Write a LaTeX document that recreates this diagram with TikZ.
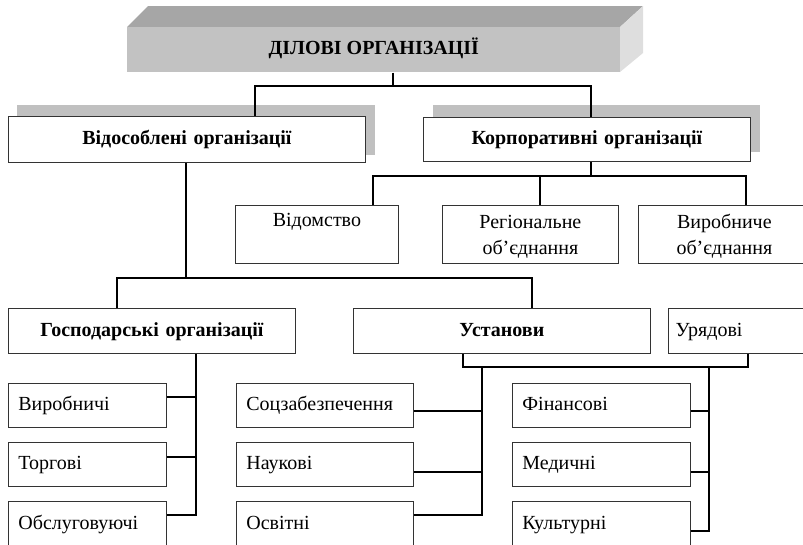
\documentclass[tikz,border=0pt]{standalone}
\usepackage{fontspec}
\setmainfont{Liberation Serif}
\definecolor{topgray}{HTML}{A6A6A6}
\definecolor{frontgray}{HTML}{C2C2C2}
\definecolor{sidegray}{HTML}{DEDEDE}
\definecolor{shadgray}{HTML}{C0C0C0}
\begin{document}
\begin{tikzpicture}[x=0.75pt,y=-0.75pt,
  conn/.style={line width=1.2pt, black},
  box/.style={draw=black!80, line width=0.6pt, fill=white, inner sep=0pt, anchor=north west,
    font=\fontsize{15}{19.5}\selectfont, execute at begin node=\strut},
  bbox/.style={box, font=\fontsize{15}{19.5}\selectfont\bfseries, align=center},
  twoline/.style={box, align=center, minimum height=43.5pt},
  colbox/.style={box, align=left, inner xsep=7.5pt, minimum height=33pt},
]
\useasboundingbox (0,0) rectangle (803,544);
\clip (0,0) rectangle (803,544);

% top 3D bar
\fill[topgray] (127,27) -- (148,6) -- (643,6) -- (620,27) -- cycle;
\fill[sidegray] (620,27) -- (643,6) -- (643,53) -- (620,72) -- cycle;
\node[inner sep=0pt, anchor=north west, fill=frontgray, minimum width=369.75pt, minimum height=33.75pt,
  font=\fontsize{15}{19.5}\selectfont\bfseries, execute at begin node=\strut] (top) at (127,27) {ДІЛОВІ ОРГАНІЗАЦІЇ};

% shadows
\fill[shadgray] (17,105) rectangle (375,155);
\fill[shadgray] (433,105) rectangle (760,152);

% level 2
\node[bbox, text width=267.75pt, minimum height=34.5pt] (vid) at (8,116) {Відособлені організації};
\node[bbox, text width=245.25pt, minimum height=33pt] (korp) at (423,117) {Корпоративні організації};

% corporate children
\node[twoline, text width=122.25pt] (vidom) at (235,205) {Відомство\\\strut};
\node[twoline, text width=132pt] (reg) at (442,205) {Регіональне\\об’єднання};
\node[twoline, text width=129pt] (vyrob) at (638,205) {Виробниче\\об’єднання};

% level 3
\node[bbox, text width=215.25pt, minimum height=33.75pt] (gosp) at (8,308) {Господарські організації};
\node[bbox, text width=222.75pt, minimum height=33.75pt] (ustan) at (353,308) {Установи};
\node[box, align=left, inner xsep=5.5pt, text width=95.5pt, minimum height=33.75pt] (uryad) at (668,308) {Урядові};

% left column
\node[colbox, text width=103.5pt] (l1) at (8,383) {Виробничі};
\node[colbox, text width=103.5pt] (l2) at (8,442) {Торгові};
\node[colbox, text width=103.5pt, minimum height=33.75pt] (l3) at (8,501) {Обслуговуючі};
% middle column
\node[colbox, text width=117.75pt] (m1) at (236,383) {Соцзабезпечення};
\node[colbox, text width=117.75pt] (m2) at (236,442) {Наукові};
\node[colbox, text width=117.75pt, minimum height=33.75pt] (m3) at (236,501) {Освітні};
% right column
\node[colbox, text width=118.5pt] (r1) at (512,383) {Фінансові};
\node[colbox, text width=118.5pt] (r2) at (512,442) {Медичні};
\node[colbox, text width=118.5pt, minimum height=33.75pt] (r3) at (512,501) {Культурні};

% junction coordinates
\coordinate (j1) at (393,86);
\coordinate (j1a) at (255,86);
\coordinate (j1b) at (591,86);
\coordinate (j2) at (591,176);
\coordinate (j2a) at (373,176);
\coordinate (j2b) at (540,176);
\coordinate (j2c) at (746,176);
\coordinate (j3) at (186,278);
\coordinate (j3a) at (117,278);
\coordinate (j3b) at (532,278);
\coordinate (g1) at (196,397);
\coordinate (g2) at (196,457);
\coordinate (g3) at (196,515);
\coordinate (u0) at (463,367);
\coordinate (u1) at (748,367);
\coordinate (mb0) at (482,367);
\coordinate (mb1) at (482,411);
\coordinate (mb2) at (482,472);
\coordinate (mb3) at (482,515);
\coordinate (rb0) at (709,367);
\coordinate (rb1) at (709,411);
\coordinate (rb2) at (709,472);
\coordinate (rb3) at (709,531);

% connectors
\draw[conn] (top.south -| j1) -- (j1);
\draw[conn] (vid.north -| j1a) |- (j1b) -- (korp.north -| j1b);

\draw[conn] (korp.south -| j2) -- (j2);
\draw[conn] (vidom.north -| j2a) |- (j2c) -- (vyrob.north -| j2c);
\draw[conn] (j2b) -- (reg.north -| j2b);

\draw[conn] (vid.south -| j3) -- (j3);
\draw[conn] (gosp.north -| j3a) |- (j3b) -- (ustan.north -| j3b);

\draw[conn] (gosp.south -| g3) -- (g3) -- (l3.east |- g3);
\draw[conn] (l1.east |- g1) -- (g1);
\draw[conn] (l2.east |- g2) -- (g2);

\draw[conn] (ustan.south -| u0) -- (u0) -- (u1) -- (uryad.south -| u1);
\draw[conn] (mb0) -- (mb3) -- (m3.east |- mb3);
\draw[conn] (m1.east |- mb1) -- (mb1);
\draw[conn] (m2.east |- mb2) -- (mb2);
\draw[conn] (rb0) -- (rb3) -- (r3.east |- rb3);
\draw[conn] (r1.east |- rb1) -- (rb1);
\draw[conn] (r2.east |- rb2) -- (rb2);
\end{tikzpicture}
\end{document}
